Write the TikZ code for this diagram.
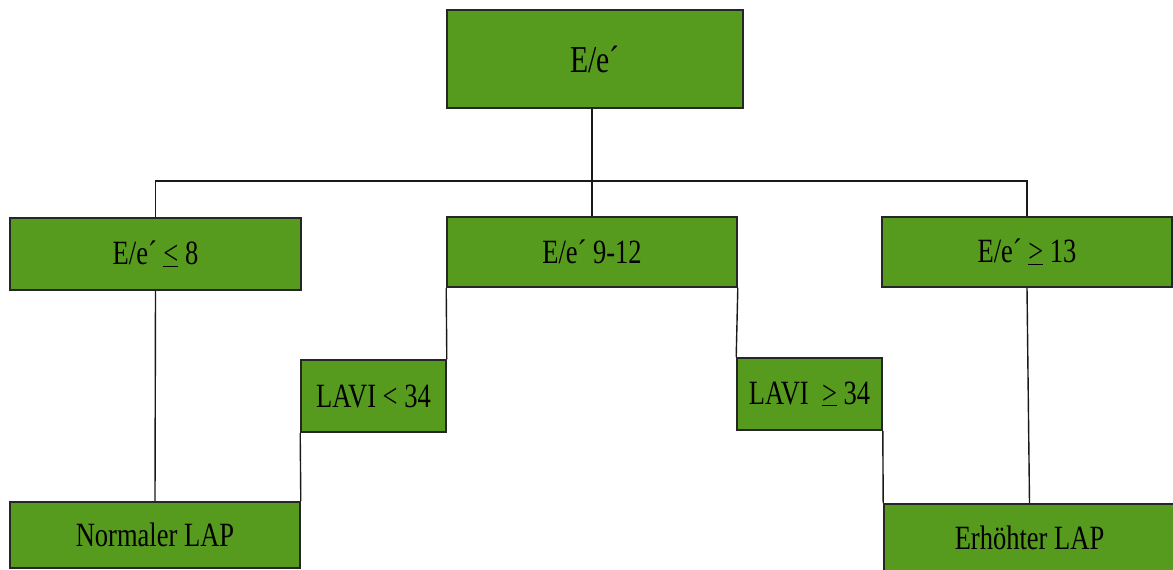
\documentclass[tikz,border=0pt]{standalone}
\usepackage{fontspec}
\setmainfont[FakeStretch=0.78]{Liberation Serif}
\definecolor{boxgreen}{RGB}{86,155,30}
\newcommand\myle{\underline{<}}
\newcommand\myge{\underline{>}}
\begin{document}
\begin{tikzpicture}[x=1pt,y=-1pt,
  gbox/.style={draw=black!85,line width=1.6pt,fill=boxgreen,inner sep=0pt,
    font=\fontsize{34}{38}\selectfont,text=black},
  conn/.style={draw=black!90,line width=1.4pt}]
\useasboundingbox (0,0) rectangle (1173,570);
\node[gbox,minimum width=296pt,minimum height=98pt,font=\fontsize{38}{40}\selectfont] (top) at (595,59) {E/e´};
\node[gbox,minimum width=291pt,minimum height=72pt] (b1) at (155.5,254) {E/e´ \myle\ 8};
\node[gbox,minimum width=290pt,minimum height=70pt] (b2) at (592,252) {E/e´ 9-12};
\node[gbox,minimum width=290pt,minimum height=70pt] (b3) at (1027,252) {E/e´ \myge\ 13};
\node[gbox,minimum width=145pt,minimum height=72pt] (l1) at (373.5,396) {LAVI < 34};
\node[gbox,minimum width=145pt,minimum height=72pt] (l2) at (809.5,394) {LAVI \ \myge\ 34};
\node[gbox,minimum width=290pt,minimum height=66pt] (n) at (155,535) {Normaler LAP};
\node[gbox,minimum width=291pt,minimum height=68pt] (e) at (1029.5,538) {Erhöhter LAP};
\coordinate (bus) at (0,181);
\draw[conn] (b2.north |- top.south) -- (b2.north);
\draw[conn] (b1.north) -- (b1.north |- bus) -- (b3.north |- bus) -- (b3.north);
\draw[conn] (b1.south) -- (n.north);
\draw[conn] (b2.south west) -- (l1.north east);
\draw[conn] (l1.south west) -- (n.north east);
\draw[conn] (b2.south east) -- (l2.north west);
\draw[conn] (l2.south east) -- (e.north west);
\draw[conn] (b3.south) -- (e.north);
\end{tikzpicture}
\end{document}
